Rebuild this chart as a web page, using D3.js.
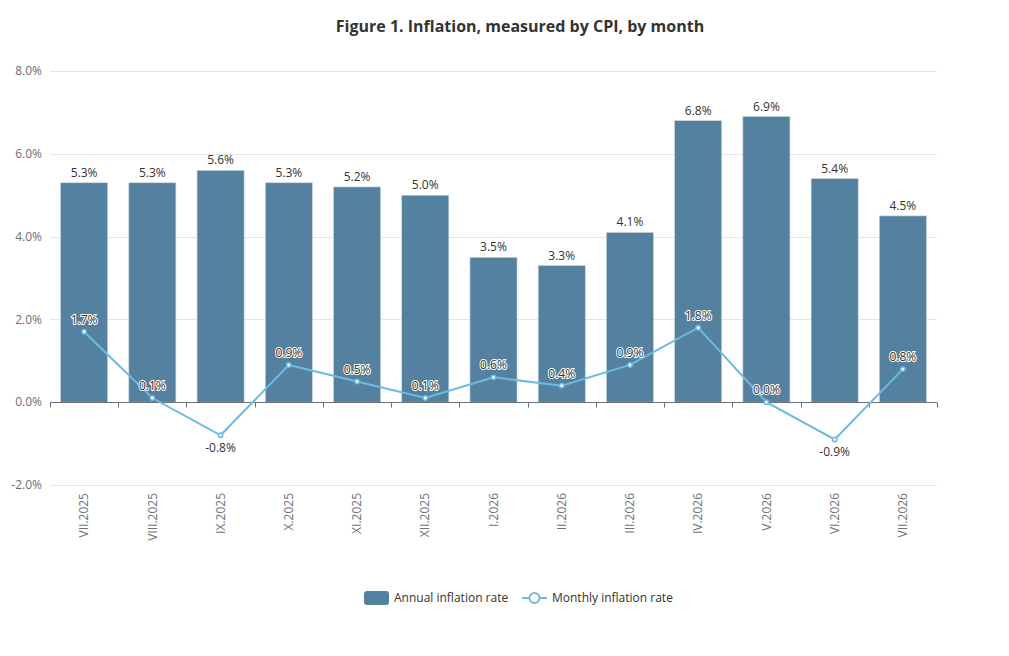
<!DOCTYPE html>
<html>
<head>
<meta charset="utf-8">
<script src="https://cdn.jsdelivr.net/npm/d3@7"></script>
<style>
  body { margin: 0; background: #fff; }
  text { font-family: "Open Sans", "Noto Sans", sans-serif; }
</style>
</head>
<body>
<svg id="chart"></svg>
<script>
const months = ["VII.2025", "VIII.2025", "IX.2025", "X.2025", "XI.2025", "XII.2025",
  "I.2026", "II.2026", "III.2026", "IV.2026", "V.2026", "VI.2026", "VII.2026"];
const annualRate = [5.3, 5.3, 5.6, 5.3, 5.2, 5.0, 3.5, 3.3, 4.1, 6.8, 6.9, 5.4, 4.5];
const monthlyRate = [1.7, 0.1, -0.8, 0.9, 0.5, 0.1, 0.6, 0.4, 0.9, 1.8, 0.0, -0.9, 0.8];
const yTicks = [-2, 0, 2, 4, 6, 8];

const width = 1009;
const height = 656;
const margin = { top: 71, right: 72, bottom: 171, left: 50 };
const barColor = "#5581a0";
const lineColor = "#6cbbdf";

const svg = d3.select("#chart").attr("width", width).attr("height", height);

const x = d3.scaleBand()
  .domain(months)
  .range([margin.left, width - margin.right])
  .paddingInner(0.31)
  .paddingOuter(0.155);

const xBand = d3.scaleBand()
  .domain(months)
  .range([margin.left, width - margin.right]);

const y = d3.scaleLinear()
  .domain([-2, 8])
  .range([height - margin.bottom, margin.top]);

// title
svg.append("text")
  .attr("x", 520)
  .attr("y", 32)
  .attr("text-anchor", "middle")
  .attr("font-size", 16)
  .attr("font-weight", "bold")
  .attr("fill", "#333")
  .text("Figure 1. Inflation, measured by CPI, by month");

// grid lines
svg.append("g")
  .selectAll("line")
  .data(yTicks)
  .join("line")
  .attr("x1", margin.left)
  .attr("x2", width - margin.right)
  .attr("y1", (d) => Math.round(y(d)) + 0.5)
  .attr("y2", (d) => Math.round(y(d)) + 0.5)
  .attr("stroke", "#e0e6f1");

// y axis labels
svg.append("g")
  .selectAll("text")
  .data(yTicks)
  .join("text")
  .attr("x", margin.left - 8)
  .attr("y", (d) => y(d))
  .attr("dy", "0.35em")
  .attr("text-anchor", "end")
  .attr("font-size", 12)
  .attr("fill", "#6e7079")
  .text((d) => d.toFixed(1) + "%");

// bars
svg.append("g")
  .selectAll("rect")
  .data(annualRate)
  .join("rect")
  .attr("x", (d, i) => x(months[i]))
  .attr("width", x.bandwidth())
  .attr("y", (d) => y(d))
  .attr("height", (d) => y(0) - y(d))
  .attr("fill", barColor)
  .attr("stroke", "#c9d6e0")
  .attr("stroke-width", 0.6);

// bar labels
svg.append("g")
  .selectAll("text")
  .data(annualRate)
  .join("text")
  .attr("x", (d, i) => x(months[i]) + x.bandwidth() / 2)
  .attr("y", (d) => y(d) - 6)
  .attr("text-anchor", "middle")
  .attr("font-size", 12)
  .attr("fill", "#333")
  .text((d) => d.toFixed(1) + "%");

// x axis
const xAxisY = Math.round(y(0)) + 0.5;
const xAxis = svg.append("g");
xAxis.append("line")
  .attr("x1", margin.left)
  .attr("x2", width - margin.right)
  .attr("y1", xAxisY)
  .attr("y2", xAxisY)
  .attr("stroke", "#6e7079");
xAxis.selectAll("line.tick")
  .data(months.concat(["end"]))
  .join("line")
  .attr("class", "tick")
  .attr("x1", (d, i) => Math.round(margin.left + i * xBand.step()) + 0.5)
  .attr("x2", (d, i) => Math.round(margin.left + i * xBand.step()) + 0.5)
  .attr("y1", xAxisY)
  .attr("y2", xAxisY + 5)
  .attr("stroke", "#6e7079");

// x labels (rotated)
svg.append("g")
  .selectAll("text")
  .data(months)
  .join("text")
  .attr("transform", (d) => `translate(${xBand(d) + xBand.bandwidth() / 2}, ${y(-2) + 8}) rotate(-90)`)
  .attr("dy", "0.35em")
  .attr("text-anchor", "end")
  .attr("font-size", 12)
  .attr("fill", "#6e7079")
  .text((d) => d);

// monthly line
const line = d3.line()
  .x((d, i) => xBand(months[i]) + xBand.bandwidth() / 2)
  .y((d) => y(d));

svg.append("path")
  .datum(monthlyRate)
  .attr("d", line)
  .attr("fill", "none")
  .attr("stroke", lineColor)
  .attr("stroke-width", 2);

svg.append("g")
  .selectAll("circle")
  .data(monthlyRate)
  .join("circle")
  .attr("cx", (d, i) => xBand(months[i]) + xBand.bandwidth() / 2)
  .attr("cy", (d) => y(d))
  .attr("r", 2.2)
  .attr("fill", "#fff")
  .attr("stroke", lineColor)
  .attr("stroke-width", 1.5);

svg.append("g")
  .selectAll("text")
  .data(monthlyRate)
  .join("text")
  .attr("x", (d, i) => xBand(months[i]) + xBand.bandwidth() / 2)
  .attr("y", (d) => (d < 0 ? y(d) + 17 : y(d) - 8))
  .attr("text-anchor", "middle")
  .attr("font-size", 12)
  .attr("fill", "#333")
  .attr("stroke", (d) => (d < 0 ? "none" : "#fff"))
  .attr("stroke-width", 2)
  .attr("paint-order", "stroke")
  .text((d) => d.toFixed(1) + "%");

// legend
const legend = svg.append("g").attr("transform", "translate(364, 598)");
legend.append("rect")
  .attr("x", 0)
  .attr("y", -7)
  .attr("width", 25)
  .attr("height", 14)
  .attr("rx", 3)
  .attr("fill", barColor);
legend.append("text")
  .attr("x", 30)
  .attr("dy", "0.35em")
  .attr("font-size", 12)
  .attr("fill", "#333")
  .text("Annual inflation rate");
legend.append("line")
  .attr("x1", 158)
  .attr("x2", 183)
  .attr("stroke", lineColor)
  .attr("stroke-width", 2);
legend.append("circle")
  .attr("cx", 170.5)
  .attr("r", 5)
  .attr("fill", "#fff")
  .attr("stroke", lineColor)
  .attr("stroke-width", 2);
legend.append("text")
  .attr("x", 188)
  .attr("dy", "0.35em")
  .attr("font-size", 12)
  .attr("fill", "#333")
  .text("Monthly inflation rate");
</script>
</body>
</html>
